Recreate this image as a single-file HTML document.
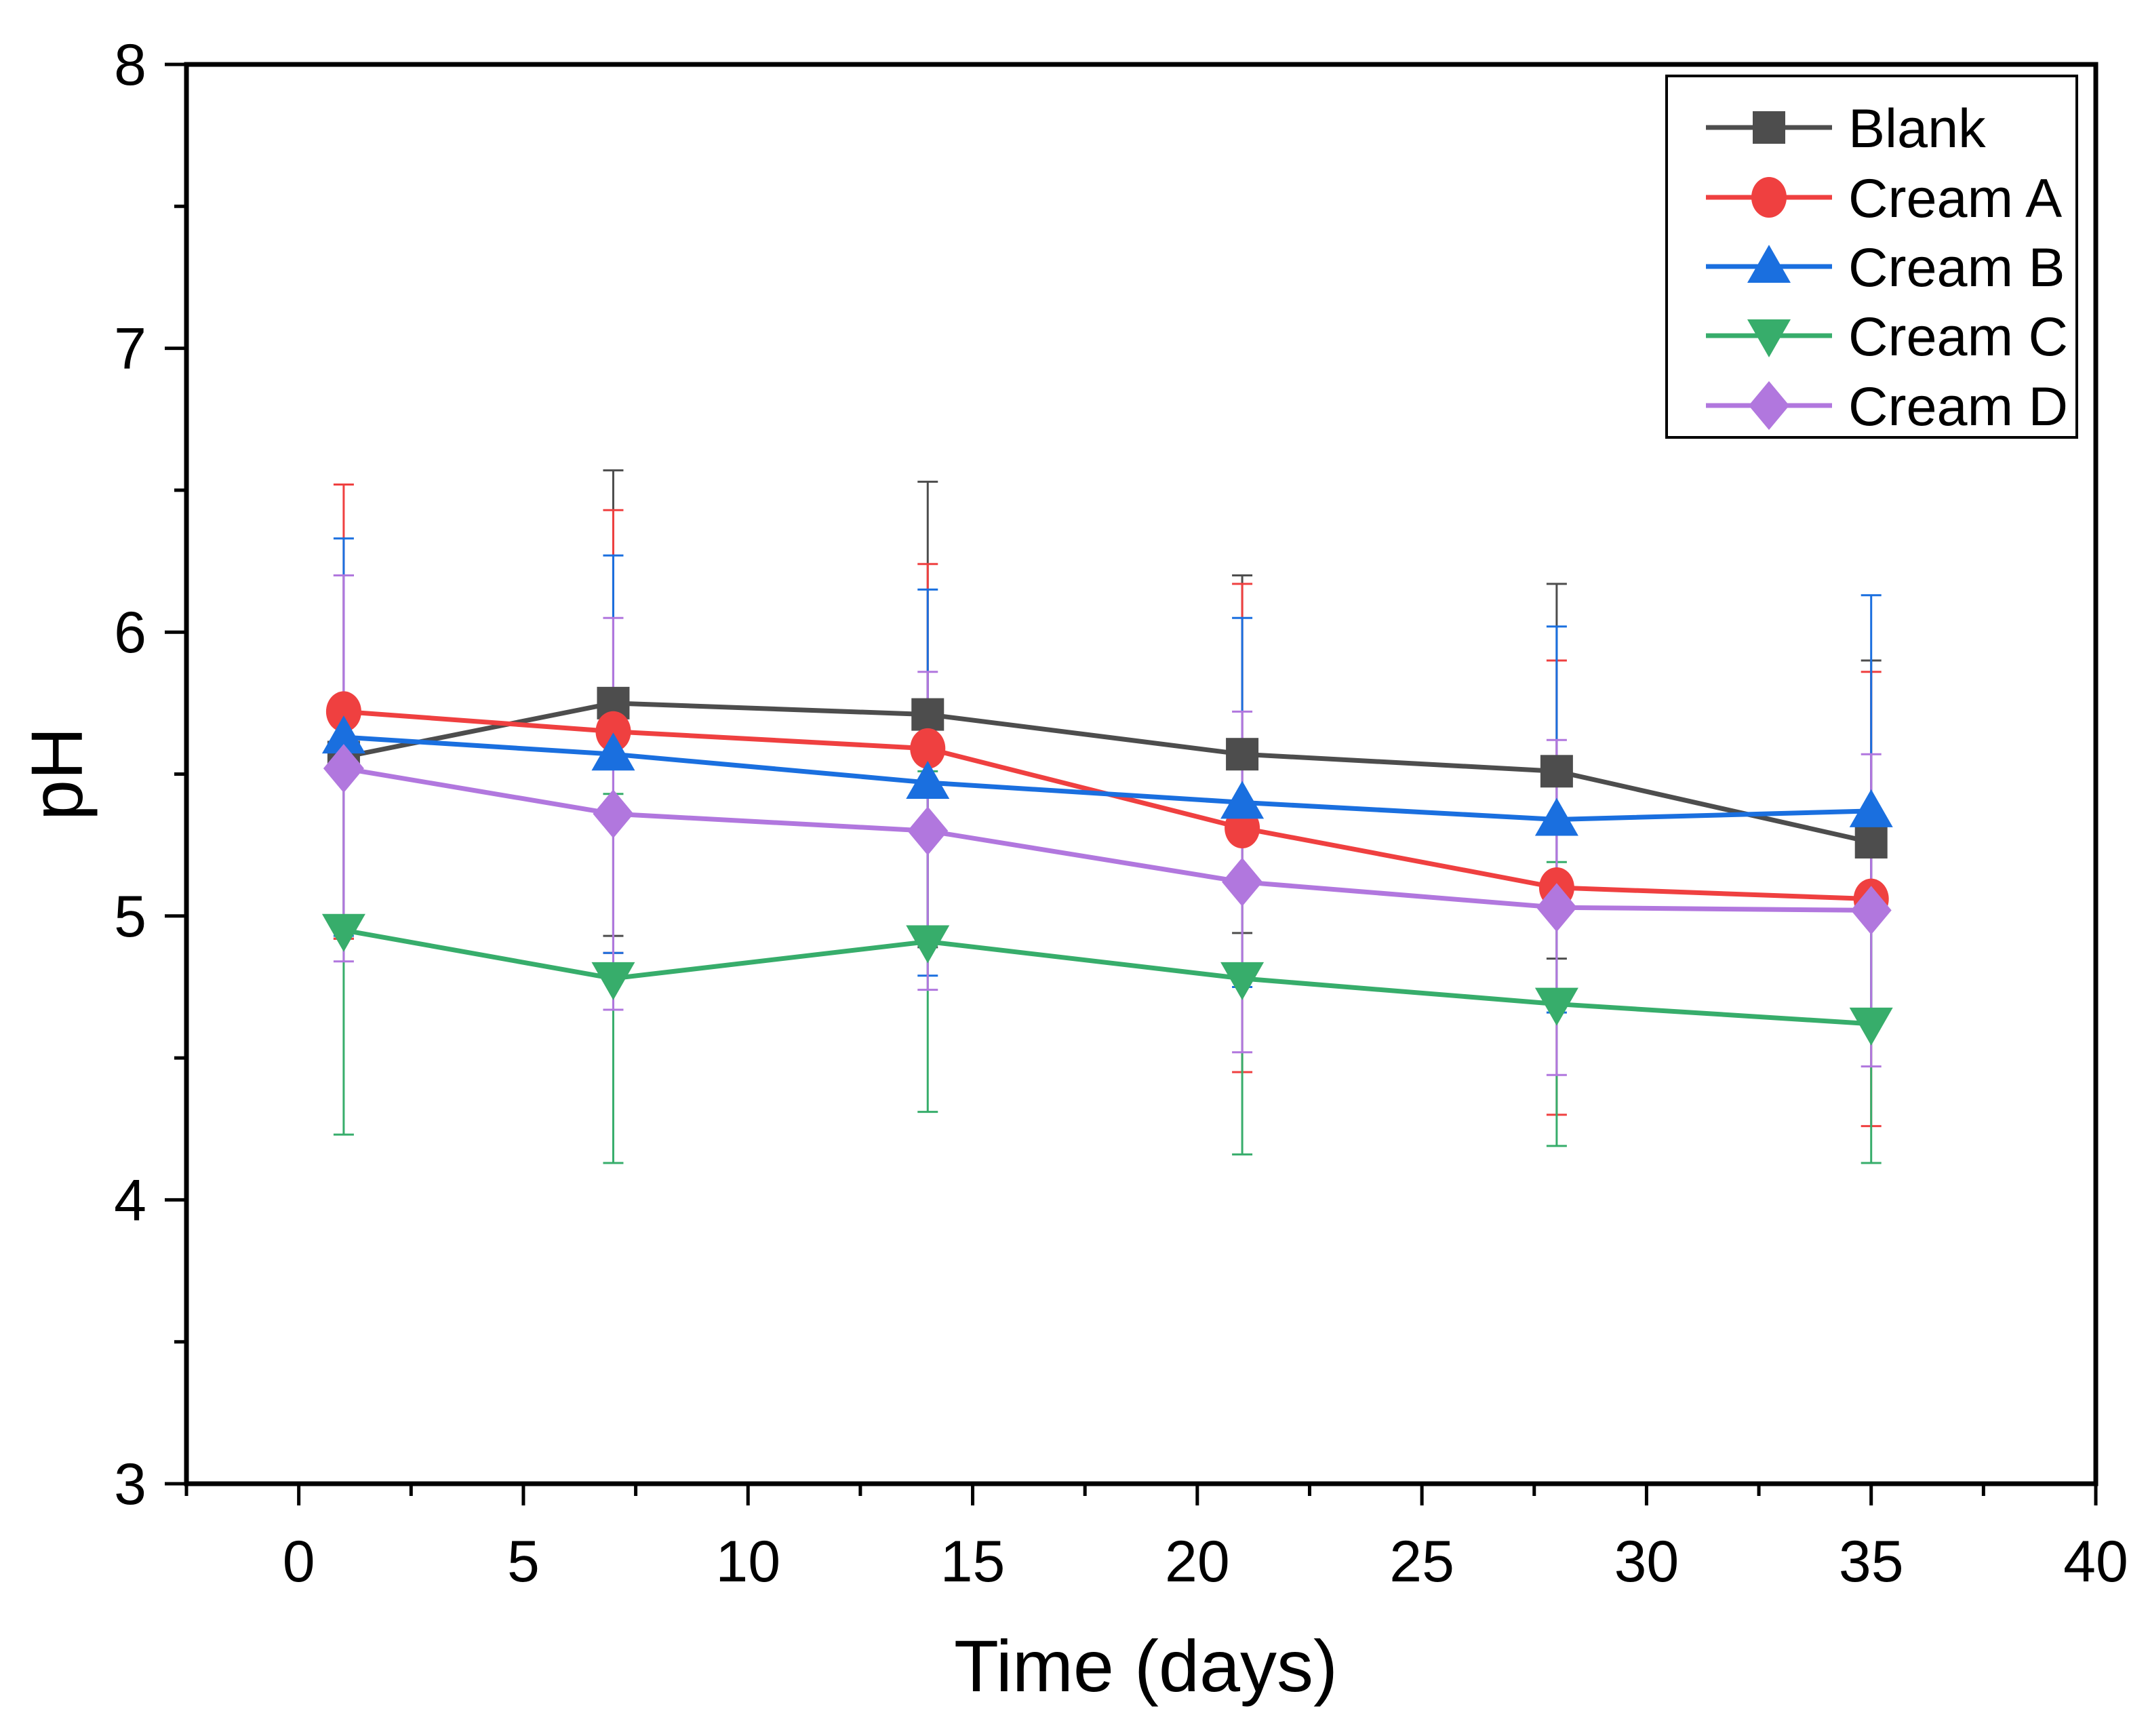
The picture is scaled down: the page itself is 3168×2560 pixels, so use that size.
<!DOCTYPE html>
<html><head><meta charset="utf-8"><style>
html,body{margin:0;padding:0;background:#fff;}
svg{display:block;font-family:"Liberation Sans",Arial,sans-serif;}
</style></head><body>
<svg id="chart" width="3168" height="2560" viewBox="0 0 3168 2560" xmlns="http://www.w3.org/2000/svg">
<rect width="3168" height="2560" fill="#fff"/>
<g id="grid"></g>
<g id="errs"></g>
<g id="lines"></g>
<g id="axes"></g>
<g id="legend"></g>
</svg>
<script>
const days = [1, 7, 14, 21, 28, 35];
const seriesNames = ["Blank", "Cream A", "Cream B", "Cream C", "Cream D"];
const blankVals = [5.56, 5.75, 5.71, 5.57, 5.51, 5.26];
const creamAVals = [5.72, 5.65, 5.59, 5.31, 5.10, 5.06];
const creamBVals = [5.63, 5.57, 5.47, 5.40, 5.34, 5.37];
const creamCVals = [4.95, 4.78, 4.91, 4.78, 4.69, 4.62];
const creamDVals = [5.52, 5.36, 5.30, 5.12, 5.03, 5.02];
const blankErr = [0.64, 0.82, 0.82, 0.63, 0.66, 0.64];
const creamAErr = [0.80, 0.78, 0.65, 0.86, 0.80, 0.80];
const creamBErr = [0.70, 0.70, 0.68, 0.65, 0.68, 0.76];
const creamCErr = [0.72, 0.65, 0.60, 0.62, 0.50, 0.49];
const creamDErr = [0.68, 0.69, 0.56, 0.60, 0.59, 0.55];
const xTicks = [0, 5, 10, 15, 20, 25, 30, 35, 40];
const yTicks = [3, 4, 5, 6, 7, 8];

const NS = "http://www.w3.org/2000/svg";
const L = 275, R = 3091, T = 95, B = 2188;
const X0 = -2.5, X1 = 40, Y0 = 3, Y1 = 8;
function xs(v){ return L + (v - X0) / (X1 - X0) * (R - L); }
function ys(v){ return B - (v - Y0) / (Y1 - Y0) * (B - T); }
function el(tag, attrs, parent){
  const e = document.createElementNS(NS, tag);
  for (const k in attrs) e.setAttribute(k, attrs[k]);
  parent.appendChild(e);
  return e;
}
const colors = ["#4d4d4d", "#ef4040", "#1a6fdf", "#37ad6b", "#b177de"];
const vals = [blankVals, creamAVals, creamBVals, creamCVals, creamDVals];
const errs = [blankErr, creamAErr, creamBErr, creamCErr, creamDErr];
const shapes = ["square", "circle", "up", "down", "diamond"];

function marker(shape, x, y, c, parent){
  let m;
  const s = 24;
  if (shape === "square") m = el("rect", {x:x-s, y:y-s, width:2*s, height:2*s, fill:c}, parent);
  else if (shape === "circle") m = el("ellipse", {cx:x, cy:y, rx:s+2, ry:s+6, fill:c}, parent);
  else if (shape === "up") m = el("polygon", {points:`${x},${y-32} ${x+32},${y+24} ${x-32},${y+24}`, fill:c}, parent);
  else if (shape === "down") m = el("polygon", {points:`${x},${y+32} ${x+32},${y-24} ${x-32},${y-24}`, fill:c}, parent);
  else m = el("polygon", {points:`${x},${y-36} ${x+30},${y} ${x},${y+36} ${x-30},${y}`, fill:c}, parent);
  return m;
}

const gE = document.getElementById("errs");
const gL = document.getElementById("lines");
vals.forEach((arr, si) => {
  const c = colors[si];
  const g = el("g", {}, gE);
  
  
  arr.forEach((v, i) => {
    const x = xs(days[i]), yt = ys(v + errs[si][i]), yb = ys(v - errs[si][i]);
    el("line", {x1:x, x2:x, y1:yt, y2:yb, stroke:c, "stroke-width":3}, g);
    el("line", {x1:x-15, x2:x+15, y1:yt, y2:yt, stroke:c, "stroke-width":3}, g);
    el("line", {x1:x-15, x2:x+15, y1:yb, y2:yb, stroke:c, "stroke-width":3}, g);
  });
});
vals.forEach((arr, si) => {
  const c = colors[si];
  const g = el("g", {}, gL);
  
  
  const pts = arr.map((v, i) => xs(days[i]) + "," + ys(v)).join(" ");
  el("polyline", {points:pts, fill:"none", stroke:c, "stroke-width":7}, g);
  arr.forEach((v, i) => {
    const m = marker(shapes[si], xs(days[i]), ys(v), c, g);
    
    
  });
});

// axes
const gA = document.getElementById("axes");
const frame = el("rect", {x:L, y:T, width:R-L, height:B-T, fill:"none", stroke:"#000", "stroke-width":7}, gA);


for (let v = 0; v <= 40; v += 2.5) {
  const major = xTicks.includes(v);
  el("line", {x1:xs(v), x2:xs(v), y1:B, y2:B + (major ? 32 : 18), stroke:"#000", "stroke-width":5}, gA);
}
el("line", {x1:L, x2:L, y1:B, y2:B+18, stroke:"#000", "stroke-width":5}, gA);
xTicks.forEach(v => {
  const t = el("text", {x:xs(v), y:2332, "text-anchor":"middle", "font-size":86}, gA);
  t.textContent = v;
  
  
});
for (let v = 3; v <= 8.001; v += 0.5) {
  const major = Math.abs(v - Math.round(v)) < 1e-6;
  el("line", {x1:L, x2:L - (major ? 32 : 18), y1:ys(v), y2:ys(v), stroke:"#000", "stroke-width":5}, gA);
}
yTicks.forEach(v => {
  const t = el("text", {x:216, y:ys(v)+30, "text-anchor":"end", "font-size":86}, gA);
  t.textContent = v;
  
  
});
const xt = el("text", {x:1690, y:2494, "text-anchor":"middle", "font-size":108}, gA);
xt.textContent = "Time (days)";


const yt = el("text", {x:0, y:0, "text-anchor":"middle", "font-size":108, transform:"translate(121,1141) rotate(-90)"}, gA);
yt.textContent = "pH";



// legend
const gLeg = document.getElementById("legend");


el("rect", {x:2458, y:112, width:605, height:533, fill:"#fff", stroke:"#000", "stroke-width":4}, gLeg);
const rowY = [188, 291, 393, 495, 598];
seriesNames.forEach((n, i) => {
  const g = el("g", {}, gLeg);
  
  
  el("line", {x1:2516, x2:2702, y1:rowY[i], y2:rowY[i], stroke:colors[i], "stroke-width":7}, g);
  marker(shapes[i], 2609, rowY[i], colors[i], g);
  const t = el("text", {x:2726, y:rowY[i]+29, "font-size":81}, g);
  t.textContent = n;
});
</script>
</body></html>
